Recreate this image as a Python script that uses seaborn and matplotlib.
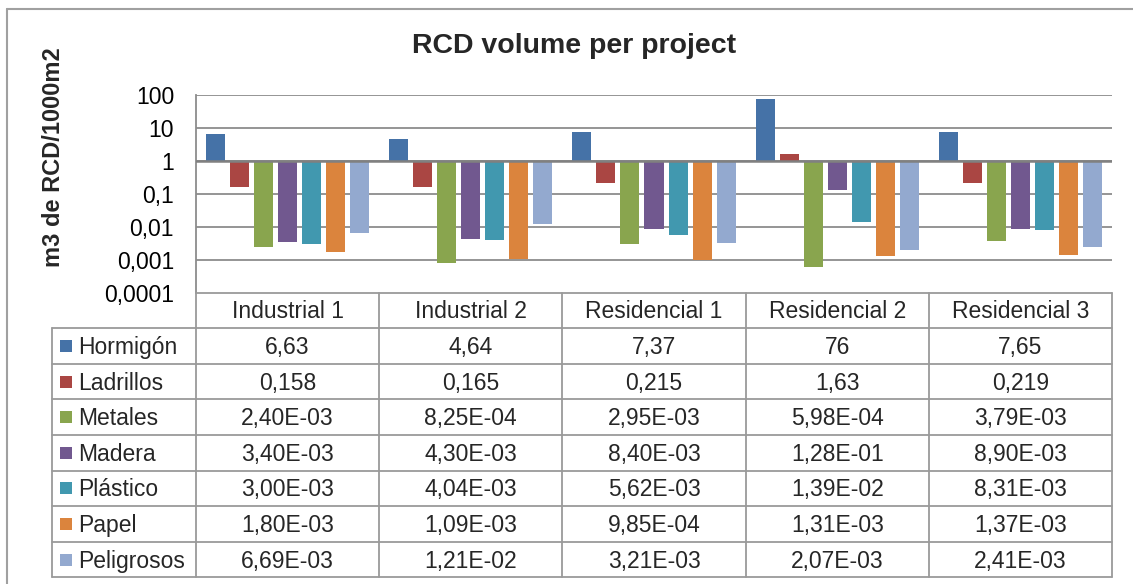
import numpy as np
import pandas as pd
import matplotlib
matplotlib.use("Agg")
import matplotlib.pyplot as plt
import seaborn as sns
from matplotlib.patches import Rectangle

# ---------------- data ----------------
projects = ["Industrial 1", "Industrial 2", "Residencial 1", "Residencial 2", "Residencial 3"]
materials = ["Hormigón", "Ladrillos", "Metales", "Madera", "Plástico", "Papel", "Peligrosos"]
hormigon = [6.63, 4.64, 7.37, 76, 7.65]
ladrillos = [0.158, 0.165, 0.215, 1.63, 0.219]
metales = [2.40e-03, 8.25e-04, 2.95e-03, 5.98e-04, 3.79e-03]
madera = [3.40e-03, 4.30e-03, 8.40e-03, 1.28e-01, 8.90e-03]
plastico = [3.00e-03, 4.04e-03, 5.62e-03, 1.39e-02, 8.31e-03]
papel = [1.80e-03, 1.09e-03, 9.85e-04, 1.31e-03, 1.37e-03]
peligrosos = [6.69e-03, 1.21e-02, 3.21e-03, 2.07e-03, 2.41e-03]
series = [hormigon, ladrillos, metales, madera, plastico, papel, peligrosos]
ytick_values = [1e-4, 1e-3, 1e-2, 1e-1, 1, 10, 100]
ytick_labels = ["0,0001", "0,001", "0,01", "0,1", "1", "10", "100"]
title = "RCD volume per project"
ylabel = "m3 de RCD/1000m2"

colors = ["#4572A7", "#AA4643", "#89A54E", "#71588F", "#4198AF", "#DB843D", "#93A9CF"]

sns.set_theme(style="white")
plt.rcParams["font.family"] = ["Liberation Sans", "DejaVu Sans"]

W, H = 1133, 584
fig = plt.figure(figsize=(W / 100, H / 100), dpi=100)
fig.patch.set_facecolor("white")

ax_bottom_px, ax_top_px = 293, 95
ax_left_px, ax_right_px = 196, 1112
ax = fig.add_axes([ax_left_px / W, 1 - ax_bottom_px / H,
                   (ax_right_px - ax_left_px) / W, (ax_bottom_px - ax_top_px) / H])

rows = []
for m, vals in zip(materials, series):
    for p, v in zip(projects, vals):
        rows.append({"project": p, "material": m, "value": v})
df = pd.DataFrame(rows)

sns.barplot(data=df, x="project", y="value", hue="material", order=projects,
            hue_order=materials, palette=colors, width=0.918, gap=0.208,
            saturation=1, errorbar=None, legend=False, linewidth=0, ax=ax)

# bars rise / fall from 1 (Excel log axis crossing at 1)
for cont, vals in zip(ax.containers, series):
    for bar in cont:
        idx = int(round(bar.get_x() + bar.get_width() / 2))
        v = vals[idx]
        bar.set_y(1)
        bar.set_height(v - 1)
        bar.set_zorder(2)

ax.set_yscale("log")
ax.set_ylim(1e-4, 100)
ax.set_xlim(-0.5, len(projects) - 0.5)
ax.yaxis.set_minor_locator(matplotlib.ticker.NullLocator())
ax.set_yticks(ytick_values)
ax.set_yticklabels(ytick_labels)
ax.yaxis.set_minor_locator(matplotlib.ticker.NullLocator())
ax.tick_params(axis="y", length=0, pad=15.8, labelsize=16.5, labelcolor="black")
ax.set_xticks([])
ax.set_xlabel("")
ax.set_ylabel("")
ax.set_axisbelow(True)
for yv in ytick_values[1:]:
    ax.axhline(yv, color="#8c8c8c", lw=1.3, zorder=1)
ax.axhline(1, color="#808080", lw=1.8, zorder=3)
for s in ["top", "right", "bottom"]:
    ax.spines[s].set_visible(False)
ax.spines["left"].set_color("#8c8c8c")
ax.spines["left"].set_linewidth(1.3)

# ---------------- overlay (title, y label, table) ----------------
ov = fig.add_axes([0, 0, 1, 1], zorder=5)
ov.set_xlim(0, W)
ov.set_ylim(H, 0)
ov.axis("off")
ov.patch.set_alpha(0)

# outer chart border (left and top visible)
ov.plot([7, 7], [9, H], color="#a0a0a0", lw=1.5)
ov.plot([7, W], [9, 9], color="#a0a0a0", lw=1.5)

ov.text(574.5, 53, title, ha="center", va="baseline", fontsize=20.5, fontweight="bold")
ov.text(53.5, 157, ylabel, ha="center", va="center", rotation=90, fontsize=17, fontweight="bold")

# column boundaries from the category axis
fig.canvas.draw()
col_x = [ax.transData.transform((i - 0.5, 1))[0] for i in range(len(projects) + 1)]
left_col_x = 52
row_top = ax_bottom_px - 0.5
row_h = (577.3 - row_top) / (len(materials) + 1)
row_ys = [row_top + i * row_h for i in range(len(materials) + 2)]
lc = "#9a9a9a"
lw = 1.3

def fmt(v, r):
    s = f"{v:.3g}" if r < 2 else f"{v:.2E}"
    return s.replace(".", ",")

# header row
ov.plot([col_x[0], col_x[-1]], [row_ys[0], row_ys[0]], color=lc, lw=lw)
for j, p in enumerate(projects):
    cx = (col_x[j] + col_x[j + 1]) / 2
    cy = (row_ys[0] + row_ys[1]) / 2
    ov.text(cx, cy + 8.2, p, ha="center", va="baseline", fontsize=16.5)
for i in range(1, len(row_ys)):
    ov.plot([left_col_x, col_x[-1]], [row_ys[i], row_ys[i]], color=lc, lw=lw)
for x in col_x:
    ov.plot([x, x], [row_ys[0], row_ys[-1]], color=lc, lw=lw)
ov.plot([left_col_x, left_col_x], [row_ys[1], row_ys[-1]], color=lc, lw=lw)

for r, (m, vals) in enumerate(zip(materials, series)):
    y0, y1 = row_ys[r + 1], row_ys[r + 2]
    cy = (y0 + y1) / 2
    ov.add_patch(Rectangle((60, cy - 6), 12, 12, facecolor=colors[r], edgecolor="none"))
    ov.text(78, cy + 8.2, m, ha="left", va="baseline", fontsize=16.5)
    for j, v in enumerate(vals):
        cx = (col_x[j] + col_x[j + 1]) / 2
        ov.text(cx, cy + 8.2, fmt(v, r), ha="center", va="baseline", fontsize=16.5)

fig.savefig("out.png", dpi=100, facecolor="white")
